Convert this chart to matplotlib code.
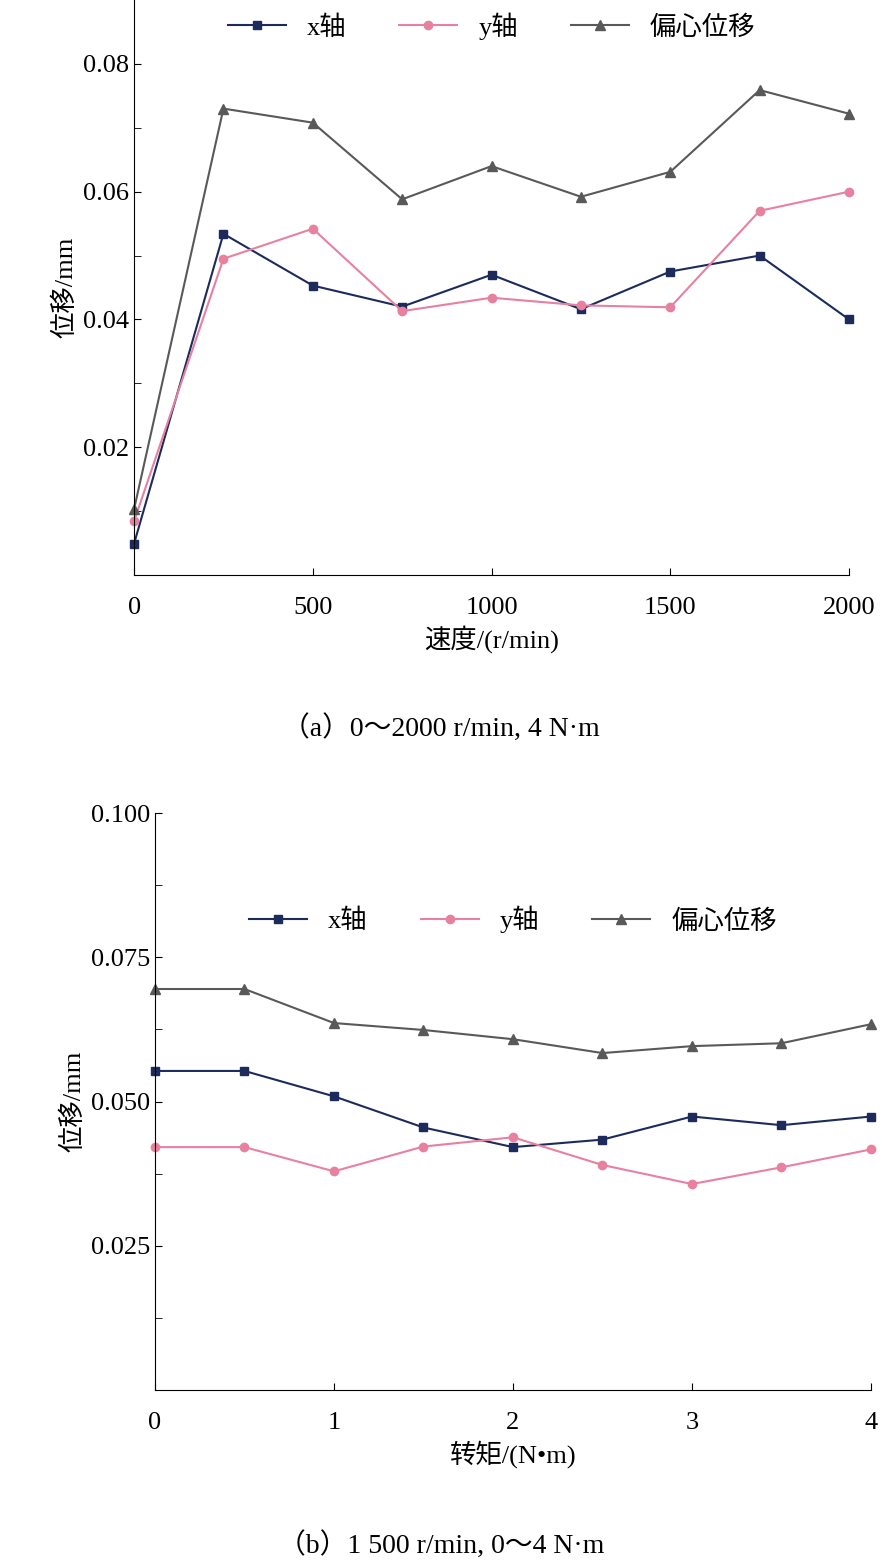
import matplotlib.pyplot as plt
from matplotlib import font_manager
import numpy as np

cjk = [f.name for f in font_manager.fontManager.ttflist if "CJK" in f.name]
cjk_name = "Noto Sans CJK SC" if "Noto Sans CJK SC" in cjk else (cjk[0] if cjk else "DejaVu Sans")
plt.rcParams["font.family"] = ["Liberation Serif", cjk_name]
plt.rcParams["font.size"] = 19

# (a) speed sweep
speed = [0, 250, 500, 750, 1000, 1250, 1500, 1750, 2000]
a_x = [0.0049, 0.0534, 0.0453, 0.0420, 0.0470, 0.0416, 0.0475, 0.0500, 0.0400]
a_y = [0.0084, 0.0495, 0.0542, 0.0413, 0.0434, 0.0422, 0.0419, 0.0570, 0.0600]
a_e = [0.0103, 0.0730, 0.0708, 0.0588, 0.0640, 0.0592, 0.0631, 0.0759, 0.0722]

# (b) torque sweep
torque = [0, 0.5, 1, 1.5, 2, 2.5, 3, 3.5, 4]
b_x = [0.0553, 0.0553, 0.0509, 0.0455, 0.0421, 0.0434, 0.0474, 0.0459, 0.0474]
b_y = [0.0421, 0.0421, 0.0379, 0.0422, 0.0438, 0.0390, 0.0357, 0.0386, 0.0417]
b_e = [0.0695, 0.0695, 0.0636, 0.0624, 0.0608, 0.0584, 0.0596, 0.0601, 0.0634]

c_x, c_y, c_e = "#1c2b5c", "#e8809f", "#595959"

fig = plt.figure(figsize=(8.82, 15.65), dpi=100)
ax1 = fig.add_axes([0.152, 0.6326, 0.8106, 0.3674])
ax2 = fig.add_axes([0.1757, 0.1118, 0.8118, 0.3687])

def draw(ax, xs, sx, sy, se, legy):
    ax.plot(xs, sx, color=c_x, marker="s", ms=6, lw=1.5, label="x轴", clip_on=False)
    ax.plot(xs, sy, color=c_y, marker="o", ms=6, lw=1.5, label="y轴", clip_on=False)
    ax.plot(xs, se, color=c_e, marker="^", ms=7, lw=1.5, label="偏心位移", clip_on=False)
    for s in ["top", "right"]:
        ax.spines[s].set_visible(False)
    ax.tick_params(direction="in", length=5)
    ax.tick_params(axis="x", pad=16)
    ax.set_ylabel("位移/mm")
    ax.legend(loc="upper center", bbox_to_anchor=(0.5, legy), ncol=3, frameon=False,
              handlelength=2.2, columnspacing=2.0, fontsize=19)

draw(ax1, speed, a_x, a_y, a_e, 1.02)
ax1.set_xlim(0, 2000)
ax1.set_ylim(0, 0.09)
ax1.set_xticks([0, 500, 1000, 1500, 2000])
ax1.set_yticks([0.02, 0.04, 0.06, 0.08])
ax1.set_yticklabels(["0.02", "0.04", "0.06", "0.08"])
ax1.set_yticks(np.arange(0.01, 0.09, 0.02), minor=True)
ax1.tick_params(which="minor", direction="in", length=5)
ax1.set_xlabel("速度/(r/min)")

draw(ax2, torque, b_x, b_y, b_e, 0.88)
ax2.set_xlim(0, 4)
ax2.set_ylim(0, 0.1)
ax2.set_xticks([0, 1, 2, 3, 4])
ax2.set_yticks([0.025, 0.05, 0.075, 0.1])
ax2.set_yticklabels(["0.025", "0.050", "0.075", "0.100"])
ax2.set_yticks(np.arange(0.0125, 0.1, 0.025), minor=True)
ax2.tick_params(which="minor", direction="in", length=5)
ax2.set_xlabel("转矩/(N•m)")

fig.text(0.5, 1 - 728 / 1565, "（a）0～2000 r/min, 4 N·m", ha="center", va="center", fontsize=20)
fig.text(0.5, 1 - 1545 / 1565, "（b）1 500 r/min, 0～4 N·m", ha="center", va="center", fontsize=20)

fig.savefig("out.png", dpi=100)
